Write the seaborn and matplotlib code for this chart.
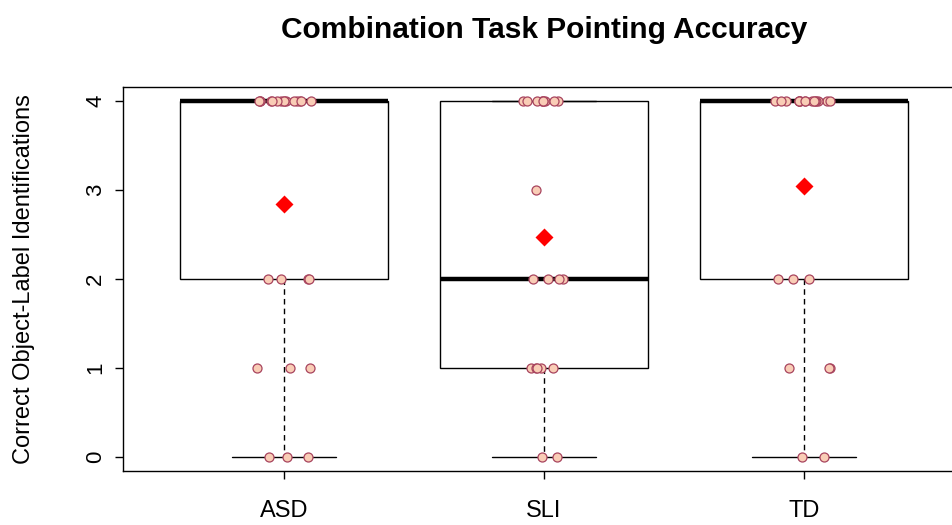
import numpy as np
import pandas as pd
import matplotlib
matplotlib.use("Agg")
import matplotlib.pyplot as plt
import seaborn as sns

# Correct object-label identifications (0-4) per child, by diagnostic group
groups = ["ASD", "SLI", "TD"]
asd_scores = [4] * 15 + [2] * 4 + [1] * 3 + [0] * 3
sli_scores = [4] * 9 + [3] * 1 + [2] * 4 + [1] * 5 + [0] * 2
td_scores = [4] * 16 + [2] * 3 + [1] * 3 + [0] * 2

title = "Combination Task Pointing Accuracy"
ylabel = "Correct Object-Label Identifications"
yticks = [0, 1, 2, 3, 4]

df = pd.DataFrame({
    "group": ["ASD"] * len(asd_scores) + ["SLI"] * len(sli_scores) + ["TD"] * len(td_scores),
    "score": asd_scores + sli_scores + td_scores,
})

sns.set_theme(style="white")
plt.rcParams["font.family"] = ["Liberation Sans", "DejaVu Sans"]
plt.rcParams["text.color"] = "black"
plt.rcParams["axes.labelcolor"] = "black"
plt.rcParams["xtick.color"] = "black"
plt.rcParams["ytick.color"] = "black"

fig = plt.figure(figsize=(9.52, 5.25), dpi=100)
ax = fig.add_axes([0.1292, 0.1029, 0.8845, 0.7318])

sns.boxplot(
    data=df, x="group", y="score", order=groups, ax=ax,
    width=0.8, color="white", linecolor="black", linewidth=1.0,
    whis=1.5, fliersize=0,
    boxprops=dict(facecolor="white", edgecolor="black", linewidth=1.0),
    medianprops=dict(color="black", linewidth=3.2),
    whiskerprops=dict(color="black", linestyle=(0, (4, 3)), linewidth=1.0),
    capprops=dict(color="black", linewidth=1.0),
)

np.random.seed(7)
sns.stripplot(
    data=df, x="group", y="score", order=groups, ax=ax,
    jitter=0.11, size=6.5, color="#F9CDB6", edgecolor="#A8445E",
    linewidth=0.9, zorder=4,
)

sns.pointplot(
    data=df, x="group", y="score", order=groups, ax=ax,
    estimator="mean", errorbar=None, linestyle="none",
    markers="D", color="red", markersize=7, zorder=5,
)

ax.set_xlim(-0.62, 2.62)
ax.set_ylim(-0.16, 4.16)
ax.set_yticks(yticks)
ax.set_yticklabels([str(v) for v in yticks], rotation=90, va="center", fontsize=16)
ax.set_xticks(range(len(groups)))
ax.set_xticklabels(groups, fontsize=17)
ax.tick_params(axis="both", direction="out", length=6, width=1, color="black",
               left=True, bottom=True, labelcolor="black")
ax.tick_params(axis="y", pad=6)
ax.tick_params(axis="x", pad=15)
for s in ax.spines.values():
    s.set_visible(True)
    s.set_color("black")
    s.set_linewidth(1.0)

ax.set_xlabel("")
ax.set_ylabel(ylabel, fontsize=17, labelpad=36, color="black")
fig.text(0.5715, 0.943, title, ha="center", va="center",
         fontsize=21.5, fontweight="bold", color="black")

fig.savefig("out.png", dpi=100, facecolor="white")
